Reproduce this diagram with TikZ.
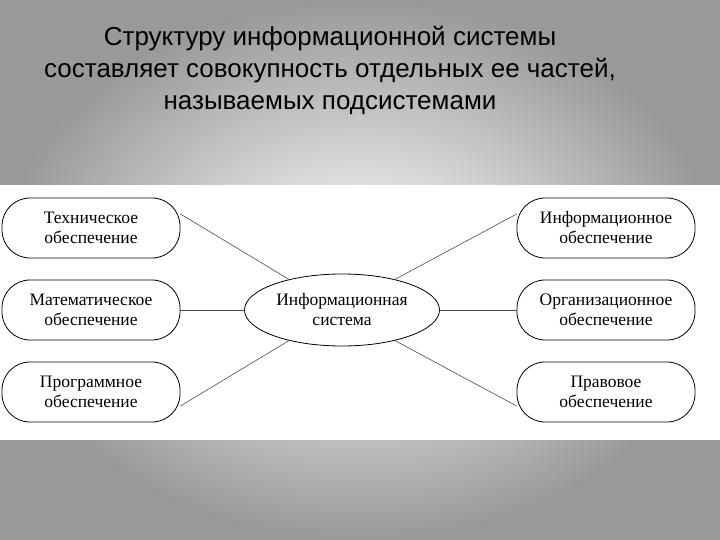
\documentclass[tikz,border=0pt]{standalone}
\usepackage{fontspec}
\usetikzlibrary{shapes.geometric}
\setmainfont{Liberation Serif}
\newfontfamily\titlefont{Liberation Sans}
\begin{document}
\begin{tikzpicture}[x=1pt,y=-1pt,
  sub/.style={draw=black,line width=0.8pt,rounded corners=28pt,minimum width=178pt,minimum height=60pt,align=center,font=\fontsize{17.5}{20}\selectfont,fill=white},
  conn/.style={draw=black!70,line width=0.6pt}]
\useasboundingbox (0,0) rectangle (720,540);
\shade[inner color=white,outer color=black!40] (0,0) rectangle (720,540);
\fill[white] (0,185) rectangle (720,440);
\node[font=\titlefont\fontsize{26}{32}\selectfont,align=center] (title) at (330,70)
 {Структуру информационной системы\\составляет совокупность отдельных ее частей,\\называемых подсистемами};
\node[sub] (l1) at (91,228) {Техническое\\обеспечение};
\node[sub] (l2) at (91,310) {Математическое\\обеспечение};
\node[sub] (l3) at (91,392) {Программное\\обеспечение};
\node[sub] (r1) at (606,228) {Информационное\\обеспечение};
\node[sub] (r2) at (606,310) {Организационное\\обеспечение};
\node[sub] (r3) at (606,392) {Правовое\\обеспечение};
\node[draw=black,line width=0.8pt,ellipse,inner sep=0pt,minimum width=195pt,minimum height=72pt,align=center,font=\fontsize{17.5}{20}\selectfont] (c) at (342,310) {Информационная\\система};
\draw[conn] ([yshift=14pt]l1.east) -- (c.150);
\draw[conn] (l2) -- (c);
\draw[conn] ([yshift=-14pt]l3.east) -- (c.210);
\draw[conn] ([yshift=14pt]r1.west) -- (c.30);
\draw[conn] (r2) -- (c);
\draw[conn] ([yshift=-14pt]r3.west) -- (c.-30);
\end{tikzpicture}
\end{document}
